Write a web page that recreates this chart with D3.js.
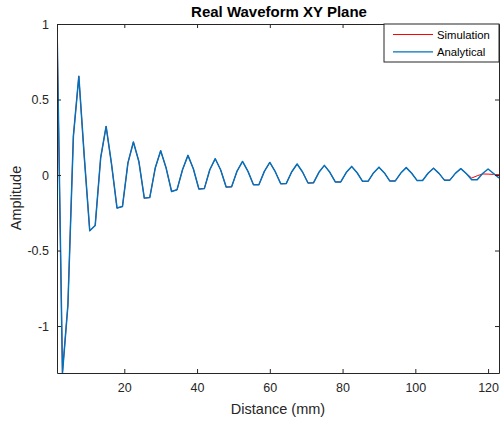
<!DOCTYPE html>
<html><head><meta charset="utf-8">
<script src="https://cdn.jsdelivr.net/npm/d3@7"></script>
<style>
html,body{margin:0;padding:0;background:#fff;}
text{font-family:"Liberation Sans",Arial,Helvetica,sans-serif;}
</style></head>
<body>
<svg id="chart" width="502" height="425"></svg>
<script>
const distance = [1.5,3,4.5,6,7.5,9,10.5,12,13.5,15,16.5,18,19.5,21,22.5,24,25.5,27,28.5,30,
31.5,33,34.5,36,37.5,39,40.5,42,43.5,45,46.5,48,49.5,51,52.5,54,55.5,57,58.5,60,
61.5,63,64.5,66,67.5,69,70.5,72,73.5,75,76.5,78,79.5,81,82.5,84,85.5,87,88.5,90,
91.5,93,94.5,96,97.5,99,100.5,102,103.5,105,106.5,108,109.5,111,112.5,114,115.5,117,118.5,120,
121.5,123];
const analytical = [1.0,-1.311,-0.86,0.256,0.654,0.12,-0.369,-0.334,0.113,0.322,
0.07,-0.219,-0.208,0.080,0.219,0.09,-0.153,-0.149,0.046,0.161,
0.046,-0.109,-0.097,0.035,0.130,0.040,-0.093,-0.090,0.035,0.108,
0.033,-0.080,-0.078,0.026,0.090,0.024,-0.064,-0.064,0.024,0.083,
0.022,-0.058,-0.057,0.020,0.073,0.020,-0.053,-0.052,0.018,0.064,
0.018,-0.046,-0.046,0.016,0.057,0.015,-0.042,-0.042,0.014,0.052,
0.014,-0.040,-0.039,0.013,0.049,0.012,-0.037,-0.036,0.012,0.045,
0.011,-0.034,-0.034,0.011,0.042,0.010,-0.031,-0.031,0.010,0.040,
0.010,-0.020];
const simulation = [1.0,-1.311,-0.86,0.256,0.654,0.12,-0.369,-0.334,0.113,0.322,
0.07,-0.219,-0.208,0.080,0.219,0.09,-0.153,-0.149,0.046,0.161,
0.046,-0.109,-0.097,0.035,0.130,0.040,-0.093,-0.090,0.035,0.108,
0.033,-0.080,-0.078,0.026,0.090,0.024,-0.064,-0.064,0.024,0.083,
0.022,-0.058,-0.057,0.020,0.073,0.020,-0.053,-0.052,0.018,0.064,
0.018,-0.046,-0.046,0.016,0.057,0.015,-0.042,-0.042,0.014,0.052,
0.014,-0.040,-0.039,0.013,0.049,0.012,-0.037,-0.036,0.012,0.045,
0.011,-0.034,-0.034,0.011,0.042,0.010,-0.020,-0.005,0.007,0.006,
0.004,0.002];
const xTicks = [20,40,60,80,100,120];
const yTicks = [-1,-0.5,0,0.5,1];
const yTickLabels = ["-1","-0.5","0","0.5","1"];
const seriesNames = ["Simulation","Analytical"];
const seriesColors = ["#ff0000","#0072bd"];

const svg = d3.select("#chart");
const L=57,R=499,T=24,B=373;
const x = d3.scaleLinear().domain([1.5,123]).range([L,R]);
const y = d3.scaleLinear().domain([-1.311,1]).range([B,T]);
const axisCol="#262626";

svg.append("defs").append("clipPath").attr("id","clip")
  .append("rect").attr("x",L).attr("y",T).attr("width",R-L).attr("height",B-T);

svg.append("rect").attr("x",L).attr("y",T).attr("width",R-L).attr("height",B-T).attr("fill","#fff");

const line = d3.line().x((d,i)=>x(distance[i])).y(d=>y(d));
const g = svg.append("g").attr("clip-path","url(#clip)");
const widths=[1.0,1.5];
[simulation,analytical].forEach((s,k)=>{
  g.append("path").attr("d",line(s)).attr("fill","none")
   .attr("stroke",seriesColors[k]).attr("stroke-width",widths[k]).attr("stroke-linejoin","round");
});

// axes
const fmtY = d => yTickLabels[yTicks.indexOf(d)];
const axB = d3.axisBottom(x).tickValues(xTicks).tickSizeInner(-4).tickSizeOuter(0).tickPadding(10);
const axT = d3.axisTop(x).tickValues(xTicks).tickSizeInner(-4).tickSizeOuter(0).tickFormat("");
const axLf = d3.axisLeft(y).tickValues(yTicks).tickSizeInner(-4).tickSizeOuter(0).tickPadding(8).tickFormat(fmtY);
const axRt = d3.axisRight(y).tickValues(yTicks).tickSizeInner(-4).tickSizeOuter(0).tickFormat("");
function style(sel){
  sel.selectAll("path,line").attr("stroke",axisCol).attr("stroke-width",1);
  sel.selectAll("text").attr("fill",axisCol).style("font-size","12.5px").style("font-family",'"Liberation Sans",Arial,sans-serif');
}
svg.append("g").attr("transform",`translate(0,${B})`).call(axB).call(style);
svg.append("g").attr("transform",`translate(0,${T})`).call(axT).call(style);
svg.append("g").attr("transform",`translate(${L},0)`).call(axLf).call(style);
svg.append("g").attr("transform",`translate(${R},0)`).call(axRt).call(style);

// labels
svg.append("text").attr("x",279).attr("y",17).attr("text-anchor","middle")
  .style("font-size","15px").style("font-weight","bold").attr("fill","#000").text("Real Waveform XY Plane");
svg.append("text").attr("x",278).attr("y",414).attr("text-anchor","middle")
  .style("font-size","14.5px").attr("fill",axisCol).text("Distance (mm)");
svg.append("text").attr("transform","translate(21,198) rotate(-90)").attr("text-anchor","middle")
  .style("font-size","14.5px").attr("fill",axisCol).text("Amplitude");

// legend
const lg = svg.append("g");
lg.append("rect").attr("x",384).attr("y",24).attr("width",115).attr("height",38)
  .attr("fill","#fff").attr("stroke",axisCol).attr("stroke-width",1);
seriesNames.forEach((n,k)=>{
  const yy = 34.5 + k*17.3;
  lg.append("line").attr("x1",393).attr("x2",433).attr("y1",yy).attr("y2",yy)
    .attr("stroke",seriesColors[k]).attr("stroke-width",1.2);
  lg.append("text").attr("x",437).attr("y",yy+4).style("font-size","11.3px").attr("fill","#000").text(n);
});
</script>
</body></html>
